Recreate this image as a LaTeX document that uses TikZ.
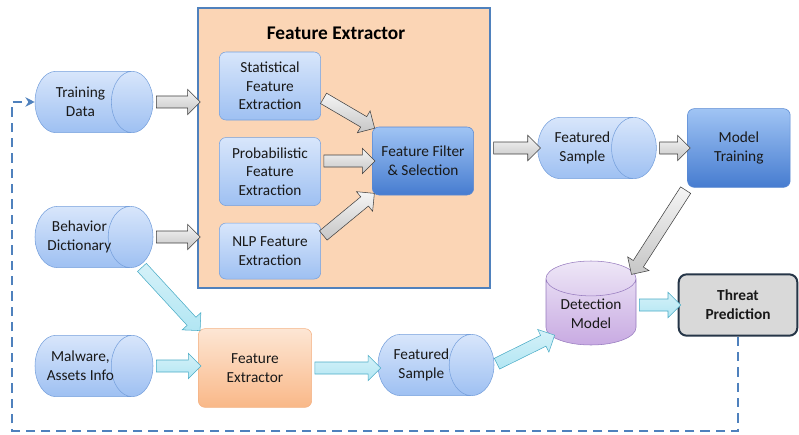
\documentclass[tikz,border=0pt]{standalone}
\usepackage{fontspec}
\setmainfont{Carlito}
\usetikzlibrary{arrows.meta, positioning, shapes.geometric, shapes.arrows, calc}
\definecolor{frameblue}{RGB}{79,129,189}
\definecolor{peach}{RGB}{251,213,181}
\definecolor{boxtop}{RGB}{216,230,251}
\definecolor{boxbot}{RGB}{158,192,242}
\definecolor{boxline}{RGB}{118,160,220}
\definecolor{darktop}{RGB}{160,196,244}
\definecolor{darkbot}{RGB}{70,124,208}
\definecolor{darkline}{RGB}{88,136,210}
\definecolor{lilactop}{RGB}{238,231,247}
\definecolor{lilacbot}{RGB}{200,170,226}
\definecolor{lilacline}{RGB}{150,122,190}
\definecolor{orangetop}{RGB}{253,230,212}
\definecolor{orangebot}{RGB}{249,184,136}
\definecolor{orangeline}{RGB}{244,177,131}
\definecolor{cyanfill}{RGB}{178,230,243}
\definecolor{cyanline}{RGB}{75,172,198}
\definecolor{greyline}{RGB}{64,64,64}
\definecolor{predline}{RGB}{38,54,72}

\newcommand{\blockarrow}[3]{%
  \path let \p1=($(#3)-(#2)$), \n1={veclen(\x1,\y1)}, \n2={atan2(\y1,\x1)}
    in node[#1, minimum height=\n1, rotate=\n2] at ($(#2)!0.5!(#3)$) {};}

\begin{document}
\begin{tikzpicture}[
    x=0.75pt, y=-0.75pt,
    every node/.style={font=\fontsize{11.5}{14}\selectfont, text=black!90},
    box/.style={draw=boxline, rounded corners=5pt, top color=boxtop, bottom color=boxbot, align=center, minimum width=76pt, minimum height=51pt, inner sep=2pt},
    darkbox/.style={box, draw=darkline, top color=darktop, bottom color=darkbot},
    cyl/.style={cylinder, draw=boxline, top color=boxtop, bottom color=boxbot, aspect=1.3, align=center, minimum width=46pt, minimum height=88.5pt, anchor=shape center, inner ysep=1pt, inner xsep=-4pt},
    garrow/.style={single arrow, draw=greyline, top color=gray!8, bottom color=gray!45, inner xsep=0pt, inner ysep=4.3pt, single arrow head extend=5pt, minimum width=0pt},
    carrow/.style={garrow, draw=cyanline, top color=cyanfill!55, bottom color=cyanfill},
    loopline/.style={frameblue, line width=1.8pt, dash pattern=on 7pt off 4.5pt, -{Stealth[length=7pt, width=7pt]}}
  ]
    \useasboundingbox (0,0) rectangle (799,435);
    \node[draw=frameblue, fill=peach, line width=1pt, minimum width=219pt, minimum height=210pt] (fx) at (344,148) {};
    \node[font=\fontsize{14.5}{17}\selectfont\bfseries, text=black] (title) at (336,33) {Feature Extractor};
    \node[box] (stat) at (270,86) {Statistical\\Feature\\Extraction};
    \node[box, below=12.75pt of stat] (prob) {Probabilistic\\Feature\\Extraction};
    \node[box, below=12.75pt of prob, minimum height=42pt] (nlp) {NLP Feature\\Extraction};
    \node[darkbox] (filt) at (423,161) {Feature Filter\\\& Selection};
    \node[cyl] (td) at (94,102) {Training\\Data};
    \node[cyl, inner xsep=-7.5pt] (bd) at (94,237) {Behavior\\Dictionary};
    \node[cyl, inner xsep=-7.5pt] (mal) at (94,366) {Malware,\\Assets Info};
    \node[cyl, minimum height=89pt] (fs1) at (597,148) {Featured\\Sample};
    \node[darkbox, right=23pt of fs1, minimum width=77pt, minimum height=59pt] (mt) {Model\\Training};
    \node[cylinder, shape border rotate=90, aspect=0.55, draw=lilacline, top color=lilactop, bottom color=lilacbot, align=center, minimum width=67.5pt, minimum height=63pt, inner sep=1pt, anchor=shape center] (dm) at (591,303) {Detection\\Model};
    \node[draw=predline, line width=1.5pt, fill=gray!30, rounded corners=6pt, minimum width=89pt, minimum height=46pt, align=center, font=\fontsize{11.5}{14}\selectfont\bfseries] (tp) at (738,305) {Threat\\Prediction};
    \node[box, draw=orangeline, top color=orangetop, bottom color=orangebot, minimum width=85pt, minimum height=59pt] (fxs) at (255,368) {Feature\\Extractor};
    \node[cyl, minimum height=87pt] (fs2) at (436,365) {Featured\\Sample};
    % grey arrows
    \blockarrow{garrow}{td.east}{td.east -| fx.west}
    \blockarrow{garrow}{bd.east}{bd.east -| fx.west}
    \blockarrow{garrow}{stat.-12}{filt.north west}
    \blockarrow{garrow}{filt.west -| prob.east}{filt.west}
    \blockarrow{garrow}{nlp.15}{filt.south west}
    \blockarrow{garrow}{fs1.west -| fx.east}{fs1.west}
    \blockarrow{garrow}{fs1.east}{fs1.east -| mt.west}
    \blockarrow{garrow}{mt.south west}{dm.45}
    % cyan arrows
    \blockarrow{carrow}{bd.-25}{fxs.north west}
    \blockarrow{carrow}{mal.east}{mal.east -| fxs.west}
    \blockarrow{carrow}{fxs.east}{fxs.east -| fs2.west}
    \blockarrow{carrow}{fs2.east}{dm.210}
    \blockarrow{carrow}{tp.west -| dm.east}{tp.west}
    % feedback loop
    \draw[loopline] (tp.south) |- (12,431) |- (td.west);
  \end{tikzpicture}
\end{document}
